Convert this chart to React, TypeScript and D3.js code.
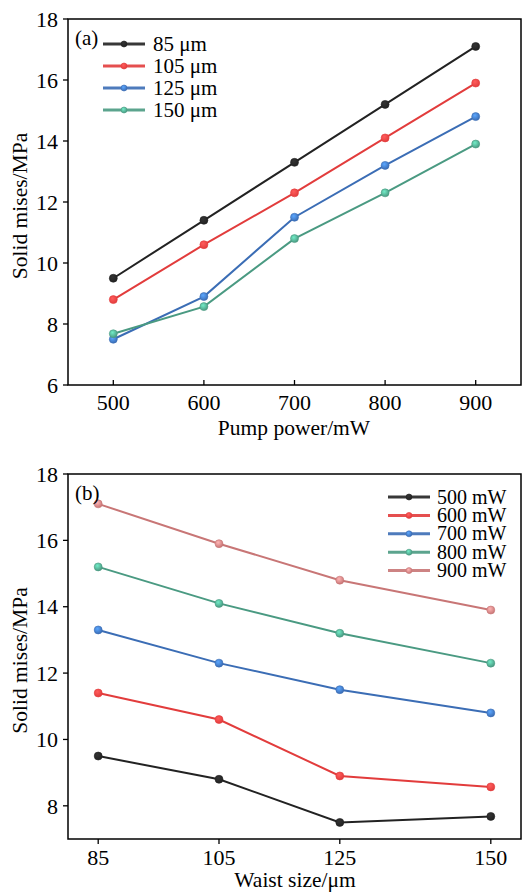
import React from "react";
import * as d3 from "d3";

const pumpPowers = [500, 600, 700, 800, 900];
const waistSizes = [85, 105, 125, 150];
const waistLabels = ["85 μm", "105 μm", "125 μm", "150 μm"];
const powerLabels = ["500 mW", "600 mW", "700 mW", "800 mW", "900 mW"];
// stress values: rows = waist size, columns = pump power
const s85 = [9.5, 11.4, 13.3, 15.2, 17.1];
const s105 = [8.8, 10.6, 12.3, 14.1, 15.9];
const s125 = [7.5, 8.9, 11.5, 13.2, 14.8];
const s150 = [7.68, 8.57, 10.8, 12.3, 13.9];
const stressByWaist = [s85, s105, s125, s150];

const colorsA = ["#222222", "#e23c3c", "#3b6db5", "#4a9a82"];
const colorsB = ["#222222", "#e23c3c", "#3b6db5", "#4a9a82", "#c87676"];

const yTicksA = [6, 8, 10, 12, 14, 16, 18];
const yTicksB = [8, 10, 12, 14, 16, 18];

const FONT = "Liberation Serif, DejaVu Serif, serif";

function Marker({ cx, cy, color, r = 4, id }: any) {
  return <circle cx={cx} cy={cy} r={r} fill={`url(#${id})`} stroke={color} strokeWidth={0.6} />;
}

export default function App() {
  const left = 68, right = 521;
  const topA = 19, botA = 385;
  const xA = d3.scaleLinear().domain([450, 950]).range([left, right]);
  const yA = d3.scaleLinear().domain([6, 18]).range([botA, topA]);
  const topB = 474, botB = 839;
  const xB = d3.scaleLinear().domain([80, 155]).range([left, right]);
  const yB = d3.scaleLinear().domain([7, 18]).range([botB, topB]);

  const lineA = d3.line<[number, number]>().x(d => xA(d[0])).y(d => yA(d[1]));
  const lineB = d3.line<[number, number]>().x(d => xB(d[0])).y(d => yB(d[1]));

  const seriesA = stressByWaist.map(vals => pumpPowers.map((p, i) => [p, vals[i]] as [number, number]));
  const seriesB = pumpPowers.map((_, pi) => waistSizes.map((w, wi) => [w, stressByWaist[wi][pi]] as [number, number]));

  const allColors = Array.from(new Set([...colorsA, ...colorsB]));
  const gid = (c: string) => "g" + c.replace("#", "");
  const ts = { fontFamily: FONT };
  const TICK = 22, TITLE = 21.5;

  return (
    <svg width={522} height={892} style={{ position: "absolute", left: 0, top: 0, background: "#fff", fontFamily: FONT }}>
      <defs>
        {allColors.map(c => (
          <radialGradient key={c} id={gid(c)} cx="40%" cy="35%" r="65%">
            <stop offset="0%" stopColor={d3.color(c)!.brighter(1.2).formatHex()} />
            <stop offset="100%" stopColor={c} />
          </radialGradient>
        ))}
      </defs>

      {/* Panel A */}
      <g>
        <rect x={left} y={topA} width={right - left} height={botA - topA} fill="none" stroke="#000" strokeWidth={1.5} />
        {yTicksA.map(t => (
          <g key={t}>
            <line x1={left - 5} x2={left} y1={yA(t)} y2={yA(t)} stroke="#000" strokeWidth={1.3} />
            <text style={ts} x={58} y={yA(t)} dy="0.35em" textAnchor="end" fontSize={TICK}>{t}</text>
          </g>
        ))}
        {pumpPowers.map(t => (
          <g key={t}>
            <line x1={xA(t)} x2={xA(t)} y1={botA} y2={botA - 5} stroke="#000" strokeWidth={1.3} />
            <text style={ts} x={xA(t)} y={410} textAnchor="middle" fontSize={TICK}>{t}</text>
          </g>
        ))}
        <text style={ts} x={294} y={435} textAnchor="middle" fontSize={TITLE}>Pump power/mW</text>
        <text style={ts} transform={`translate(27,${(topA + botA) / 2 + 4}) rotate(-90)`} textAnchor="middle" fontSize={TITLE}>Solid mises/MPa</text>
        {seriesA.map((s, i) => (
          <g key={i}>
            <path d={lineA(s)!} fill="none" stroke={colorsA[i]} strokeWidth={2} />
            {s.map((d, j) => (
              <Marker key={j} cx={xA(d[0])} cy={yA(d[1])} color={colorsA[i]} id={gid(colorsA[i])} />
            ))}
          </g>
        ))}
        <text style={ts} x={75} y={45} fontSize={21}>(a)</text>
        {waistLabels.map((l, i) => {
          const y = 44 + i * 22;
          return (
            <g key={l}>
              <line x1={103} x2={145} y1={y} y2={y} stroke={colorsA[i]} strokeWidth={3} strokeOpacity={0.9} />
              <Marker cx={124} cy={y} r={3} color={colorsA[i]} id={gid(colorsA[i])} />
              <text style={ts} x={153} y={y} dy="0.33em" fontSize={21}>{l}</text>
            </g>
          );
        })}
      </g>

      {/* Panel B */}
      <g>
        <rect x={left} y={topB} width={right - left} height={botB - topB} fill="none" stroke="#000" strokeWidth={1.5} />
        {yTicksB.map(t => (
          <g key={t}>
            <line x1={left - 5} x2={left} y1={yB(t)} y2={yB(t)} stroke="#000" strokeWidth={1.3} />
            <text style={ts} x={58} y={yB(t)} dy="0.35em" textAnchor="end" fontSize={TICK}>{t}</text>
          </g>
        ))}
        {waistSizes.map(t => (
          <g key={t}>
            <line x1={xB(t)} x2={xB(t)} y1={botB} y2={botB + 5} stroke="#000" strokeWidth={1.3} />
            <text style={ts} x={xB(t)} y={865} textAnchor="middle" fontSize={TICK}>{t}</text>
          </g>
        ))}
        <text style={ts} x={295} y={887} textAnchor="middle" fontSize={TITLE}>Waist size/μm</text>
        <text style={ts} transform={`translate(27,${(topB + botB) / 2 + 4}) rotate(-90)`} textAnchor="middle" fontSize={TITLE}>Solid mises/MPa</text>
        {seriesB.map((s, i) => (
          <g key={i}>
            <path d={lineB(s)!} fill="none" stroke={colorsB[i]} strokeWidth={2} />
            {s.map((d, j) => (
              <Marker key={j} cx={xB(d[0])} cy={yB(d[1])} color={colorsB[i]} id={gid(colorsB[i])} />
            ))}
          </g>
        ))}
        <text style={ts} x={75} y={500} fontSize={21}>(b)</text>
        {powerLabels.map((l, i) => {
          const y = 497 + i * 18.4;
          return (
            <g key={l}>
              <line x1={388} x2={430} y1={y} y2={y} stroke={colorsB[i]} strokeWidth={3} strokeOpacity={0.9} />
              <Marker cx={409} cy={y} r={3} color={colorsB[i]} id={gid(colorsB[i])} />
              <text style={ts} x={437} y={y} dy="0.33em" fontSize={20}>{l}</text>
            </g>
          );
        })}
      </g>
    </svg>
  );
}
